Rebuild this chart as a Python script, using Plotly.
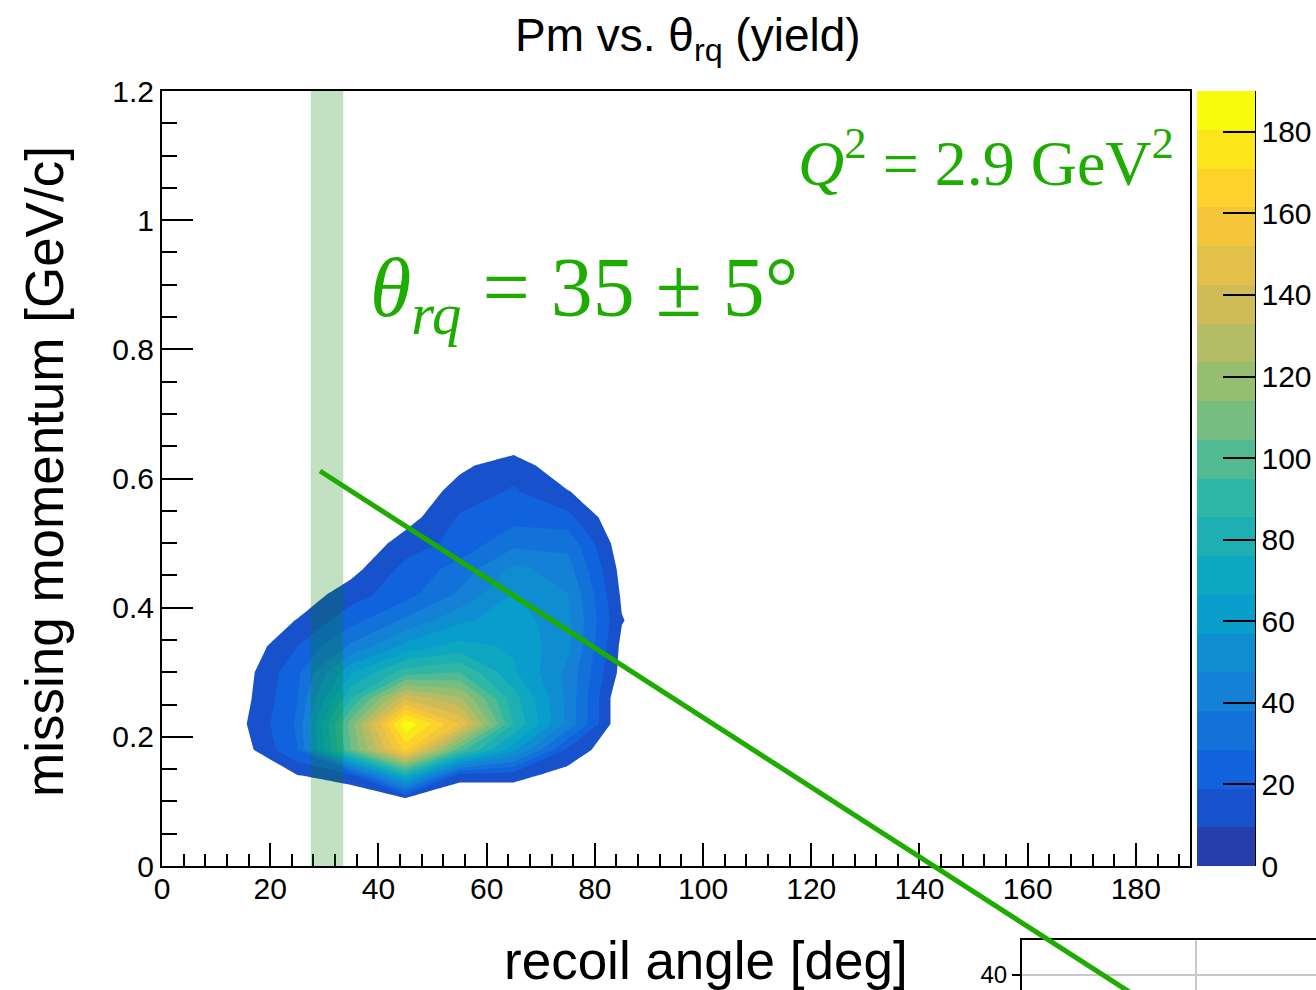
import numpy as np
import plotly.graph_objects as go

# ---- histogram binning (bin centres) ----
theta_bins = [5, 15, 25, 35, 45, 55, 65, 75, 85, 95, 105, 115, 125, 135, 145, 155, 165, 175, 185]
pm_bins = [round(0.02 + 0.04 * i, 2) for i in range(30)]

# populated part of the yield histogram
block_theta = [15, 25, 35, 45, 55, 65, 75, 85]
block_pm = [0.10, 0.14, 0.18, 0.22, 0.26, 0.30, 0.34, 0.38, 0.42, 0.46, 0.50, 0.54, 0.58, 0.62, 0.66]
yield_block = [
    [0, 0, 0, 0, 0, 0, 0, 0],            # 0.10
    [0, 9, 15, 76, 13, 13, 5, 0],        # 0.14
    [5, 28, 105, 165, 100, 60, 17, 0],   # 0.18
    [8, 30, 110, 188, 152, 85, 45, 0],   # 0.22
    [6, 28, 85, 140, 125, 80, 45, 0],    # 0.26
    [5, 26, 65, 90, 95, 68, 45, 6],      # 0.30
    [2, 19, 40, 60, 70, 65, 50, 7],      # 0.34
    [0, 10, 25, 40, 55, 62, 50, 10],     # 0.38
    [0, 3, 15, 25, 40, 58, 48, 8],       # 0.42
    [0, 0, 6, 22, 32, 50, 42, 6],        # 0.46
    [0, 0, 0, 14, 22, 35, 35, 3],        # 0.50
    [0, 0, 0, 5, 20, 25, 22, 0],         # 0.54
    [0, 0, 0, 0, 14, 20, 10, 0],         # 0.58
    [0, 0, 0, 0, 7, 16, 0, 0],           # 0.62
    [0, 0, 0, 0, 0, 0, 0, 0],            # 0.66
]

# colour axis
z_max = 190.0
n_levels = 20
colorbar_ticks = [0, 20, 40, 60, 80, 100, 120, 140, 160, 180]

# selected angular slice
band_lo, band_hi = 27.5, 33.5

# tick label of the neighbouring panel
panel2_tick = [40]

# ---- build the full z grid, padded with empty bins just beyond the axis range ----
x_grid = [-5] + theta_bins + [195]
y_grid = [-0.02] + pm_bins + [1.22]
z = np.zeros((len(y_grid), len(x_grid)))
for r, pm in enumerate(block_pm):
    iy = int(np.argmin(np.abs(np.array(y_grid) - pm)))
    for c, th in enumerate(block_theta):
        ix = x_grid.index(th)
        z[iy, ix] = yield_block[r][c]

# ---- ROOT kBird palette; contour band i takes palette entry (i + 0.99) / n ----
bird_stops = [0.0, 0.125, 0.25, 0.375, 0.5, 0.625, 0.75, 0.875, 1.0]
bird_r = [0.2082, 0.0592, 0.0780, 0.0232, 0.1802, 0.5301, 0.8186, 0.9956, 0.9764]
bird_g = [0.1664, 0.3599, 0.5041, 0.6419, 0.7178, 0.7492, 0.7328, 0.7862, 0.9832]
bird_b = [0.5293, 0.8684, 0.8385, 0.7914, 0.6425, 0.4662, 0.3499, 0.1968, 0.0539]


def bird(f):
    return "rgb(%d,%d,%d)" % tuple(
        int(round(255 * np.interp(f, bird_stops, ch))) for ch in (bird_r, bird_g, bird_b)
    )


colorscale = [[i / (n_levels - 1), bird(min(1.0, (i + 0.99) / n_levels))] for i in range(n_levels)]
step = z_max / n_levels

W, H = 1316, 990
GREEN = "rgb(30,172,0)"
NB = "\u00a0"


def px(x):
    return x / W


def py(y):
    return 1 - y / H


fig = go.Figure()

# filled contours
fig.add_trace(go.Contour(
    x=x_grid, y=y_grid, z=z,
    zmin=0, zmax=z_max, autocontour=False,
    contours=dict(start=step, end=z_max - step, size=step,
                  coloring="fill", showlines=False),
    line=dict(width=0, smoothing=0),
    colorscale=colorscale,
    hoverinfo="skip",
    colorbar=dict(
        x=px(1197), xanchor="left", y=py(478.5), yanchor="middle",
        len=775 / H, lenmode="fraction", thickness=58, thicknessmode="pixels",
        xpad=0, ypad=0, outlinewidth=0, borderwidth=0,
        tickmode="array", tickvals=colorbar_ticks,
        ticks="inside", ticklen=32, tickwidth=2, tickcolor="black",
        tickfont=dict(family="Liberation Sans", size=30, color="black"),
    ),
))

# bins below the first contour level stay blank
fig.add_trace(go.Contour(
    x=x_grid, y=y_grid, z=z,
    contours=dict(type="constraint", operation=">", value=step, showlines=False),
    fillcolor="white",
    line=dict(width=0, smoothing=0),
    showscale=False, hoverinfo="skip",
))

# neighbouring panel (only its corner is in view)
fig.add_trace(go.Scatter(x=[], y=[], xaxis="x2", yaxis="y2", showlegend=False))

axis_font = dict(family="Liberation Sans", size=30, color="black")

fig.update_layout(
    width=W, height=H, autosize=False,
    margin=dict(l=0, r=0, t=0, b=0, autoexpand=False),
    paper_bgcolor="white", plot_bgcolor="white",
    showlegend=False,
    xaxis=dict(
        domain=[px(162), px(1190)], range=[0, 190], anchor="y",
        tickmode="linear", tick0=0, dtick=20,
        ticks="inside", ticklen=23, tickwidth=2, tickcolor="black",
        minor=dict(dtick=4, ticks="inside", ticklen=12, tickwidth=2, tickcolor="black", showgrid=False),
        showline=True, linewidth=2, linecolor="black", mirror=True,
        showgrid=False, zeroline=False, tickfont=axis_font, ticklabelstandoff=-5,
    ),
    yaxis=dict(
        domain=[py(866), py(91)], range=[0, 1.2], anchor="x",
        tickmode="linear", tick0=0, dtick=0.2,
        ticks="inside", ticklen=31, tickwidth=2, tickcolor="black",
        minor=dict(dtick=0.05, ticks="inside", ticklen=15, tickwidth=2, tickcolor="black", showgrid=False),
        showline=True, linewidth=2, linecolor="black", mirror=True,
        showgrid=False, zeroline=False, tickfont=axis_font,
    ),
    xaxis2=dict(
        domain=[px(1022), 1.0], range=[0, 1.69], anchor="y2", side="top",
        tickmode="linear", tick0=0, dtick=1, showticklabels=False, ticks="",
        showline=True, linewidth=2, linecolor="black", mirror=False,
        showgrid=True, gridcolor="#c8c8c8", gridwidth=1.5, zeroline=False,
    ),
    yaxis2=dict(
        domain=[0, py(940)], range=[38.5, 43.5], anchor="x2",
        tickmode="array", tickvals=panel2_tick,
        ticks="outside", ticklen=8, tickwidth=1.5, tickcolor="black",
        showline=True, linewidth=2, linecolor="black", mirror=False,
        showgrid=True, gridcolor="#c8c8c8", gridwidth=1.5, zeroline=False,
        tickfont=dict(family="Liberation Sans", size=24, color="black"),
    ),
)

# selected theta_rq slice
fig.add_shape(type="rect", xref="x", yref="y", x0=band_lo, x1=band_hi, y0=0, y1=1.2,
              fillcolor="rgba(0,128,0,0.24)", line=dict(width=0), layer="above")
# right edge of the colour scale
fig.add_shape(type="line", xref="paper", yref="paper", x0=px(1255), x1=px(1255),
              y0=py(866), y1=py(91), line=dict(color="black", width=2))
# pointer line
fig.add_shape(type="line", xref="paper", yref="paper", x0=px(320), y0=py(471),
              x1=px(1145), y1=py(1002), line=dict(color=GREEN, width=5), layer="above")

annotations = [
    dict(text="Pm vs. θ<sub>rq</sub> (yield)", x=px(688), y=py(38), xanchor="center", yanchor="middle",
         font=dict(family="Liberation Sans", size=46, color="black")),
    dict(text="missing momentum [GeV/c]", x=px(45), y=py(472), xanchor="center", yanchor="middle",
         textangle=-90, font=dict(family="Liberation Sans", size=53, color="black")),
    dict(text="recoil angle [deg]", x=px(706), y=py(960), xanchor="center", yanchor="middle",
         font=dict(family="Liberation Sans", size=53, color="black")),
    dict(text="<i>θ</i><sub><i>rq</i></sub>" + NB + "=" + NB + "35" + NB + "±" + NB + "5°",
         x=px(368), y=py(294), xanchor="left",
         yanchor="middle", font=dict(family="Liberation Serif", size=84, color=GREEN)),
    dict(text="<i>Q</i><sup>2</sup>" + NB + "=" + NB + "2.9" + NB + "GeV<sup>2</sup>",
         x=px(1176), y=py(158), xanchor="right",
         yanchor="middle", font=dict(family="Liberation Serif", size=64, color=GREEN)),
]
for a in annotations:
    a.update(xref="paper", yref="paper", showarrow=False)
fig.update_layout(annotations=annotations)

fig.write_html("out.html")
